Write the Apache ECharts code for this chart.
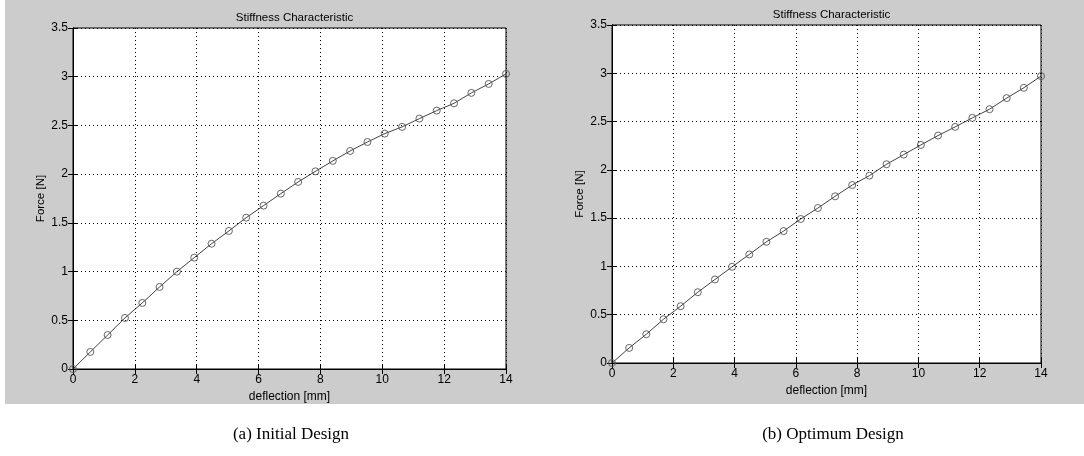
<!DOCTYPE html>
<html>
<head>
<meta charset="utf-8">
<script src="https://cdn.jsdelivr.net/npm/echarts@6/dist/echarts.min.js"></script>
<style>
  html, body { margin: 0; padding: 0; background: #ffffff; }
  #panel { position: absolute; left: 5px; top: 0px; width: 1079px; height: 404px; background: #cccccc; }
  #chart { position: absolute; left: 0; top: 0; width: 1084px; height: 456px; }
</style>
</head>
<body>
<div id="panel"></div>
<div id="chart"></div>
<script>
// ---- data ----
const deflection = [0, 0.56, 1.12, 1.68, 2.24, 2.8, 3.36, 3.92, 4.48, 5.04, 5.6, 6.16, 6.72,
  7.28, 7.84, 8.4, 8.96, 9.52, 10.08, 10.64, 11.2, 11.76, 12.32, 12.88, 13.44, 14];
const forceInitial = [0, 0.175, 0.349, 0.524, 0.678, 0.842, 0.999, 1.143, 1.286, 1.417, 1.553, 1.677, 1.80,
  1.92, 2.029, 2.136, 2.238, 2.33, 2.416, 2.485, 2.57, 2.652, 2.727, 2.834, 2.926, 3.029];
const forceOptimum = [0, 0.156, 0.298, 0.453, 0.588, 0.733, 0.865, 0.996, 1.124, 1.255, 1.366, 1.491, 1.605,
  1.726, 1.843, 1.94, 2.058, 2.158, 2.258, 2.355, 2.445, 2.538, 2.628, 2.743, 2.85, 2.971];
const plotTitle = 'Stiffness Characteristic';
const xName = 'deflection [mm]';
const yName = 'Force [N]';
const captions = ['(a) Initial Design', '(b) Optimum Design'];

const chart = echarts.init(document.getElementById('chart'), null, { renderer: 'canvas' });

const grids = [
  { left: 73, top: 28, width: 433, height: 341 },
  { left: 612, top: 25, width: 429, height: 338 }
];

const tickFont = { fontFamily: 'Liberation Sans, Arial, sans-serif', fontSize: 12, color: '#000' };

const xAxes = [], yAxes = [], series = [], titles = [];
grids.forEach((g, i) => {
  g.show = true; g.backgroundColor = '#ffffff'; g.borderColor = '#000'; g.borderWidth = 1;
  xAxes.push({
    type: 'value', gridIndex: i, min: 0, max: 14, interval: 2, position: 'bottom',
    name: xName, nameLocation: 'middle', nameGap: 19,
    nameTextStyle: { fontFamily: tickFont.fontFamily, fontSize: 12, color: '#000' },
    axisLine: { show: true, lineStyle: { color: '#000', width: 1 } },
    axisTick: { show: true, inside: true, length: 5, lineStyle: { color: '#000' } },
    axisLabel: Object.assign({ margin: 5 }, tickFont),
    splitLine: { show: true, lineStyle: { color: '#000', type: [1, 3], width: 1 } }
  });
  xAxes.push({
    type: 'value', gridIndex: i, min: 0, max: 14, interval: 2, position: 'top',
    axisLine: { show: true, lineStyle: { color: '#000', width: 1 } },
    axisTick: { show: true, inside: true, length: 5, lineStyle: { color: '#000' } },
    axisLabel: { show: false }, splitLine: { show: false }
  });
  yAxes.push({
    type: 'value', gridIndex: i, min: 0, max: 3.5, interval: 0.5, position: 'left',
    name: yName, nameLocation: 'middle', nameGap: 26,
    nameTextStyle: { fontFamily: tickFont.fontFamily, fontSize: 11.5, color: '#000' },
    axisLine: { show: true, lineStyle: { color: '#000', width: 1 } },
    axisTick: { show: true, inside: true, length: 5, lineStyle: { color: '#000' } },
    axisLabel: Object.assign({ margin: 5 }, tickFont),
    splitLine: { show: true, lineStyle: { color: '#000', type: [1, 3], width: 1 } }
  });
  yAxes.push({
    type: 'value', gridIndex: i, min: 0, max: 3.5, interval: 0.5, position: 'right',
    axisLine: { show: true, lineStyle: { color: '#000', width: 1 } },
    axisTick: { show: true, inside: true, length: 5, lineStyle: { color: '#000' } },
    axisLabel: { show: false }, splitLine: { show: false }
  });
  const vals = i === 0 ? forceInitial : forceOptimum;
  series.push({
    type: 'line', xAxisIndex: i * 2, yAxisIndex: i * 2,
    data: deflection.map((x, k) => [x, vals[k]]),
    symbol: 'circle', symbolSize: 7, showAllSymbol: true,
    lineStyle: { color: '#111', width: 0.8 },
    itemStyle: { color: 'rgba(0,0,0,0)', borderColor: '#555', borderWidth: 0.9 },
    emphasis: { disabled: true }, silent: true, animation: false
  });
  titles.push({
    text: plotTitle, left: g.left + g.width / 2, top: g.top - 21, textAlign: 'center',
    textStyle: { fontFamily: tickFont.fontFamily, fontSize: 11.5, fontWeight: 'normal', color: '#000' }
  });
});
titles.push({ text: captions[0], left: 286, top: 421, textAlign: 'center',
  textStyle: { fontFamily: 'Liberation Serif, Times New Roman, serif', fontSize: 17, fontWeight: 'normal', color: '#000' } });
titles.push({ text: captions[1], left: 828, top: 421, textAlign: 'center',
  textStyle: { fontFamily: 'Liberation Serif, Times New Roman, serif', fontSize: 17, fontWeight: 'normal', color: '#000' } });

chart.setOption({
  animation: false,
  backgroundColor: 'transparent',
  title: titles,
  grid: grids,
  xAxis: xAxes,
  yAxis: yAxes,
  series: series
});
</script>
</body>
</html>
